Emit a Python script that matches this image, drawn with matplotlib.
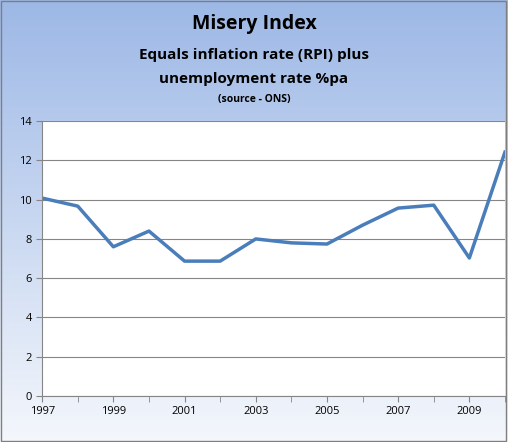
import matplotlib
matplotlib.use("Agg")
import matplotlib.pyplot as plt
import numpy as np

years = list(range(1997, 2011))
values = [10.08, 9.67, 7.6, 8.4, 6.87, 6.87, 8.0, 7.8, 7.74, 8.7, 9.57, 9.72, 7.03, 12.42]
yticks = [0, 2, 4, 6, 8, 10, 12, 14]

plt.rcParams['font.family'] = ['Open Sans', 'DejaVu Sans']
fig = plt.figure(figsize=(5.08, 4.42), dpi=100)

bg = fig.add_axes([0, 0, 1, 1], zorder=0)
grad = np.linspace(0, 1, 256).reshape(-1, 1)
top = np.array([0x9d, 0xb8, 0xe6]) / 255
bot = np.array([0xf4, 0xf7, 0xfc]) / 255
img = top[None, None, :] * (1 - grad[:, :, None]) + bot[None, None, :] * grad[:, :, None]
bg.imshow(img, aspect='auto', extent=[0, 1, 0, 1])
bg.set_xlim(0, 1); bg.set_ylim(0, 1)
bg.add_patch(plt.Rectangle((0.002, 0.002), 0.995, 0.995, fill=False, ec='#7f7f7f', lw=1))
bg.axis('off')

fig.text(0.5, 0.945, "Misery Index", ha='center', va='center', fontsize=14, fontweight='bold')
fig.text(0.5, 0.875, "Equals inflation rate (RPI) plus", ha='center', va='center', fontsize=11, fontweight='bold')
fig.text(0.5, 0.822, "unemployment rate %pa", ha='center', va='center', fontsize=11, fontweight='bold')
fig.text(0.5, 0.775, "(source - ONS)", ha='center', va='center', fontsize=7.5, fontweight='bold')

ax = fig.add_axes([0.083, 0.104, 0.911, 0.622], zorder=1)
ax.plot(years, values, color='#4a7ebb', lw=2.5, solid_joinstyle='round')
ax.set_xlim(1997, 2010)
ax.set_ylim(0, 14)
ax.set_yticks(yticks)
ax.set_xticks(years, minor=True)
ax.set_xticks(years[::2])
ax.set_xticklabels([str(y) for y in years[::2]])
ax.grid(axis='y', color='#868686', lw=0.8)
ax.set_axisbelow(True)
for s in ['top', 'right']:
    ax.spines[s].set_visible(False)
for s in ['left', 'bottom']:
    ax.spines[s].set_color('#868686')
ax.tick_params(labelsize=8, colors='black', length=4, direction='out')
ax.tick_params(which='both', color='#868686')
ax.tick_params(which='minor', length=4)
fig.savefig("out.png", dpi=100)
